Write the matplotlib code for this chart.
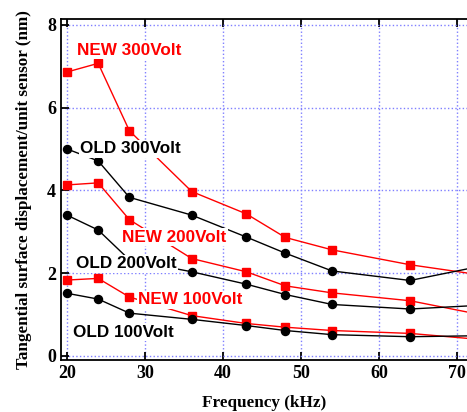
import matplotlib
matplotlib.use('Agg')
import matplotlib.pyplot as plt

# frequency points (kHz); last point lies just beyond the visible range
freq = [20, 24, 28, 36, 43, 48, 54, 64, 75]

new300 = [6.86, 7.07, 5.44, 3.97, 3.43, 2.86, 2.56, 2.20, 1.90]
old300 = [5.00, 4.71, 3.83, 3.40, 2.87, 2.48, 2.05, 1.82, 2.24]
new200 = [4.13, 4.18, 3.29, 2.35, 2.03, 1.69, 1.52, 1.33, 0.92]
old200 = [3.40, 3.04, 2.32, 2.03, 1.73, 1.48, 1.24, 1.13, 1.24]
new100 = [1.83, 1.87, 1.42, 0.97, 0.78, 0.69, 0.61, 0.54, 0.36]
old100 = [1.51, 1.37, 1.03, 0.88, 0.73, 0.61, 0.51, 0.46, 0.49]

xticks = [20, 30, 40, 50, 60, 70]
yticks = [0, 2, 4, 6, 8]

fig = plt.figure(figsize=(4.67, 4.12), dpi=100)
ax = fig.add_axes([0.1306, 0.1255, 0.8694, 0.8272])

def newLine(vals):
    ax.plot(freq, vals, '-', color='red', lw=1.0, marker='s', ms=6,
            mfc='red', mec='red', zorder=3)

def oldLine(vals):
    ax.plot(freq, vals, '-', color='black', lw=1.0, marker='o', ms=5.8,
            mfc='black', mec='black', zorder=3)

newLine(new300)
oldLine(old300)
newLine(new200)
oldLine(old200)
newLine(new100)
oldLine(old100)

labels = [('NEW 300Volt', 21.3, 7.38, 'red'),
          ('OLD 300Volt', 21.7, 5.00, 'black'),
          ('NEW 200Volt', 27.05, 2.87, 'red'),
          ('OLD 200Volt', 21.15, 2.22, 'black'),
          ('NEW 100Volt', 29.1, 1.35, 'red'),
          ('OLD 100Volt', 20.8, 0.57, 'black')]
for txt, x, y, c in labels:
    ax.text(x, y, txt, color=c, fontsize=12.3, fontweight='bold',
            family='Liberation Sans', ha='left', va='center', zorder=4,
            bbox=dict(facecolor='white', edgecolor='none', pad=1.0))

ax.set_xlim(19.23, 71.3)
ax.set_ylim(-0.11, 8.13)
ax.set_xticks(xticks)
ax.set_yticks(yticks)
ax.grid(True, color='#7f7fff', linestyle=':', lw=1.0)
ax.set_axisbelow(True)

ax.spines['right'].set_visible(False)
for s in ['left', 'bottom', 'top']:
    ax.spines[s].set_linewidth(1.3)
ax.tick_params(direction='in', length=6, width=1.3, top=True, right=False)
for lab in ax.get_xticklabels() + ax.get_yticklabels():
    lab.set_family('Liberation Serif')
    lab.set_fontweight('bold')
    lab.set_fontsize(13)

ax.set_xlabel('Frequency (kHz)', family='Liberation Serif', fontweight='bold',
              fontsize=12.3, labelpad=9)
ax.set_ylabel('Tangential surface displacement/unit sensor (nm)',
              family='Liberation Serif', fontweight='bold', fontsize=12.3,
              labelpad=11)

fig.savefig('out.png', dpi=100)
